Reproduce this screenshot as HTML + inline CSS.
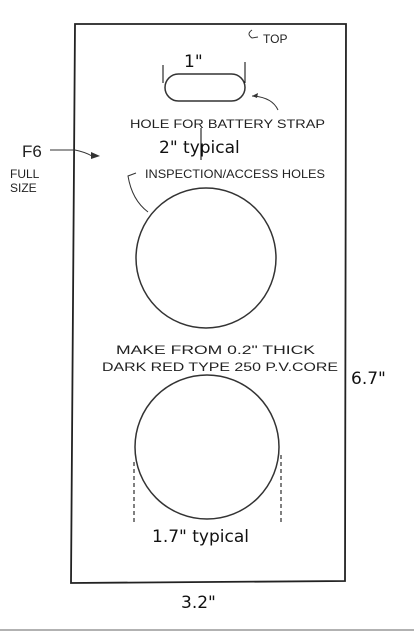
<!DOCTYPE html>
<html><head><meta charset="utf-8"><style>
html,body{margin:0;padding:0;background:#fff;}
svg{display:block;}
.hand{font-family:"Liberation Sans",sans-serif;font-size:12px;fill:#222;}
.lab{font-family:"DejaVu Sans","Liberation Sans",sans-serif;font-size:17px;fill:#111;}
</style></head><body>
<svg width="414" height="635" viewBox="0 0 414 635">
<rect x="0" y="0" width="414" height="635" fill="#fff"/>
<path d="M75 24 L346 24 L345 581 L71 583 Z" fill="none" stroke="#222" stroke-width="1.8"/>
<rect x="165" y="74" width="80" height="27" rx="13.5" fill="none" stroke="#333" stroke-width="1.5"/>
<circle cx="206" cy="258" r="70" fill="none" stroke="#333" stroke-width="1.5"/>
<circle cx="207" cy="447" r="72" fill="none" stroke="#333" stroke-width="1.5"/>
<line x1="163" y1="65" x2="163" y2="83" stroke="#000"/>
<line x1="245" y1="62" x2="245" y2="83" stroke="#000"/>
<line x1="201" y1="128" x2="201" y2="160" stroke="#000"/>
<line x1="134" y1="462" x2="134" y2="523" stroke="#000" stroke-dasharray="4,3"/>
<line x1="281" y1="455" x2="281" y2="523" stroke="#000" stroke-dasharray="4,3"/>
<text class="lab" x="184" y="67">1"</text>
<text class="lab" x="159" y="153">2" typical</text>
<text class="lab" x="152" y="542">1.7" typical</text>
<text class="lab" x="181" y="608">3.2"</text>
<text class="lab" x="351" y="384">6.7"</text>
<text class="hand" x="263" y="43">TOP</text>
<path d="M252 30 Q246 34 252 38 L258 37" fill="none" stroke="#333" stroke-width="1"/>
<text class="hand" x="130" y="128" textLength="195" lengthAdjust="spacingAndGlyphs">HOLE FOR  BATTERY STRAP</text>
<path d="M278 110 Q272 97 252 96" fill="none" stroke="#333" stroke-width="1"/>
<path d="M252 96 l6 -3 l-1 5 z" fill="#333"/>
<text class="hand" x="145" y="178" textLength="180" lengthAdjust="spacingAndGlyphs">INSPECTION/ACCESS  HOLES</text>
<path d="M136 173 L128 176 Q132 200 148 212" fill="none" stroke="#333" stroke-width="1"/>
<text class="hand" x="116" y="354" textLength="199" lengthAdjust="spacingAndGlyphs">MAKE FROM  0.2" THICK</text>
<text class="hand" x="102" y="371" textLength="236" lengthAdjust="spacingAndGlyphs">DARK RED TYPE 250 P.V.CORE</text>
<text x="22" y="157" font-family="Liberation Sans,sans-serif" font-size="17" fill="#222">F6</text>
<text class="hand" x="10" y="178" font-size="10">FULL</text>
<text class="hand" x="10" y="192" font-size="10">SIZE</text>
<path d="M50 150 L75 150 Q85 152 92 156" fill="none" stroke="#333" stroke-width="1"/>
<path d="M100 156 l-9 -4 l0 7 z" fill="#333"/>
<line x1="0" y1="630" x2="414" y2="630" stroke="#999" stroke-width="1.5"/>
</svg>
</body></html>
